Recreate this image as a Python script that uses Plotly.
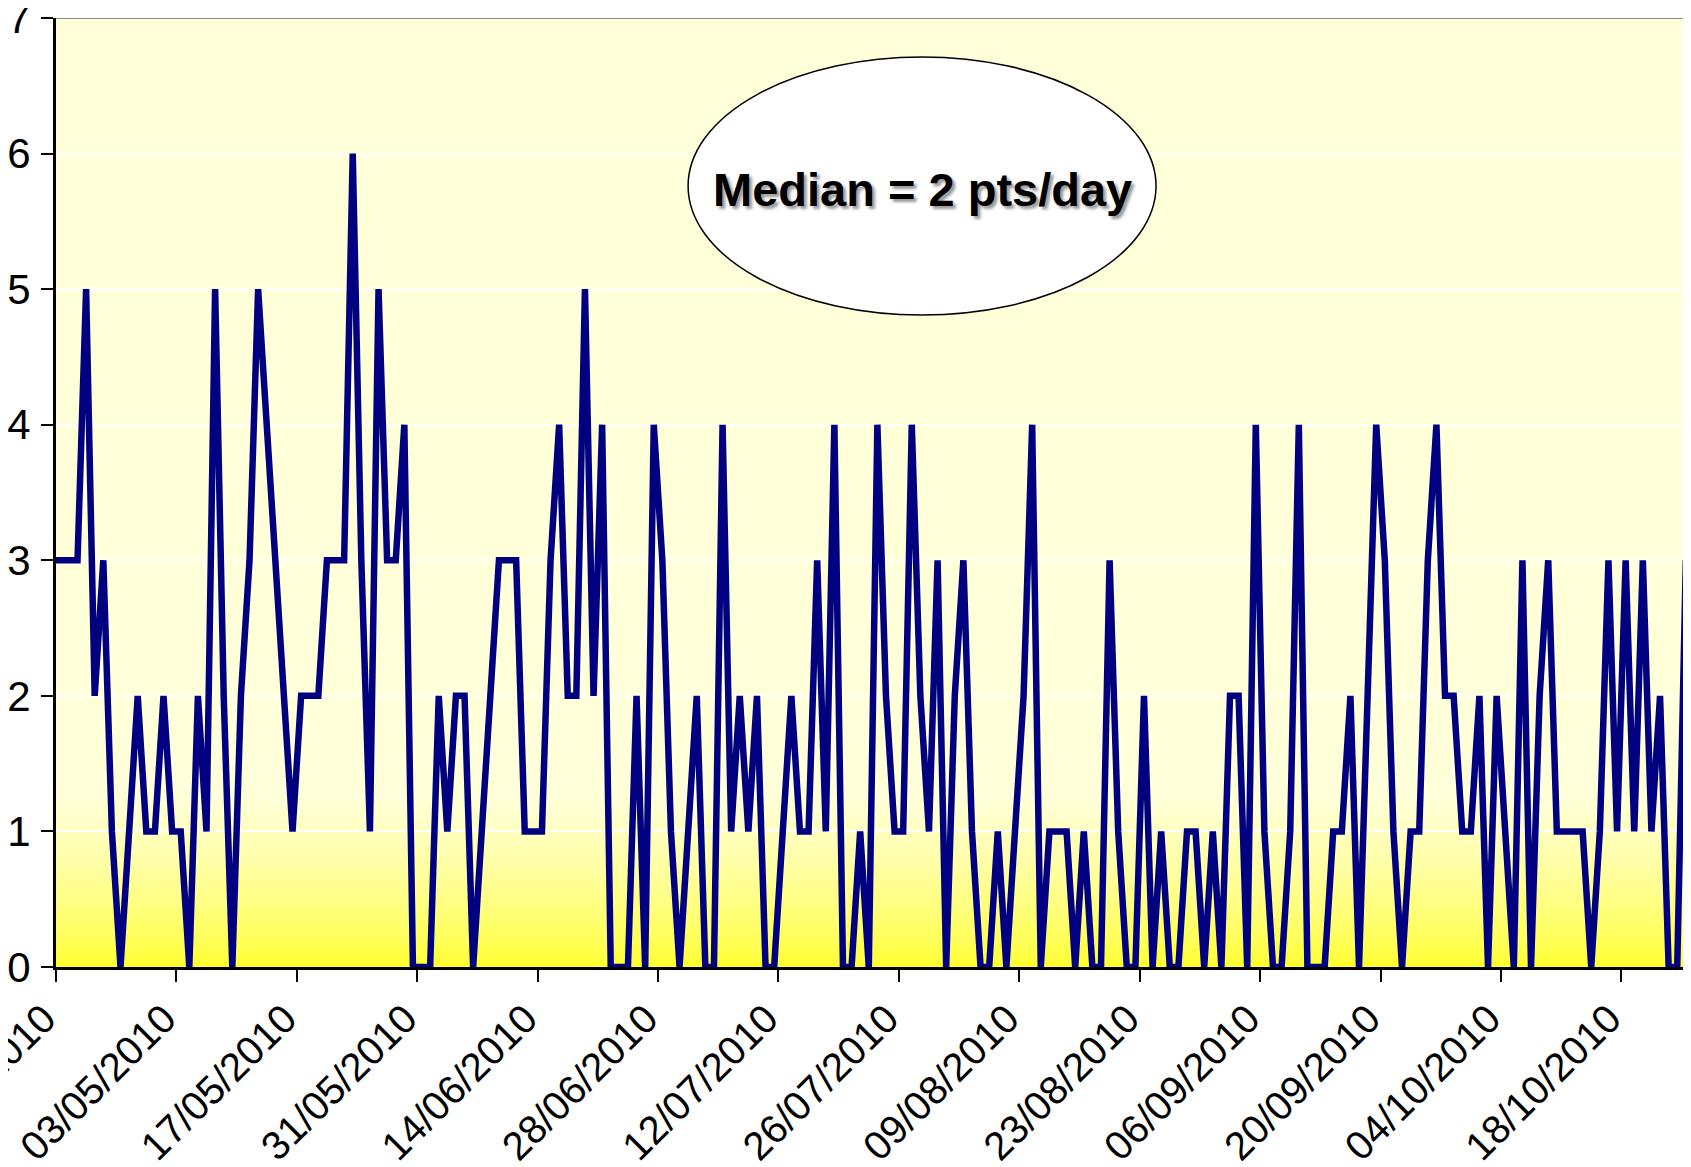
import plotly.graph_objects as go
import pandas as pd

# ---------------- data ----------------
# daily points, first value is 18/04/2010 (just left of the axis start)
first_day = "2010-04-18"
points_per_day = [
    3,
    3, 3, 3, 5, 2, 3, 1, 0, 1, 2,
    1, 1, 2, 1, 1, 0, 2, 1, 5, 2,
    0, 2, 3, 5, 4, 3, 2, 1, 2, 2,
    2, 3, 3, 3, 6, 3, 1, 5, 3, 3,
    4, 0, 0, 0, 2, 1, 2, 2, 0, 1,
    2, 3, 3, 3, 1, 1, 1, 3, 4, 2,
    2, 5, 2, 4, 0, 0, 0, 2, 0, 4,
    3, 1, 0, 1, 2, 0, 0, 4, 1, 2,
    1, 2, 0, 0, 1, 2, 1, 1, 3, 1,
    4, 0, 0, 1, 0, 4, 2, 1, 1, 4,
    2, 1, 3, 0, 2, 3, 1, 0, 0, 1,
    0, 1, 2, 4, 0, 1, 1, 1, 0, 1,
    0, 0, 3, 1, 0, 0, 2, 0, 1, 0,
    0, 1, 1, 0, 1, 0, 2, 2, 0, 4,
    1, 0, 0, 1, 4, 0, 0, 0, 1, 1,
    2, 0, 2, 4, 3, 1, 0, 1, 1, 3,
    4, 2, 2, 1, 1, 2, 0, 2, 1, 0,
    3, 0, 2, 3, 1, 1, 1, 1, 0, 1,
    3, 1, 3, 1, 3, 1, 2, 0, 0, 3,
]
tick_labels = [
    "19/04/2010", "03/05/2010", "17/05/2010", "31/05/2010", "14/06/2010",
    "28/06/2010", "12/07/2010", "26/07/2010", "09/08/2010", "23/08/2010",
    "06/09/2010", "20/09/2010", "04/10/2010", "18/10/2010",
]
y_ticks = [0, 1, 2, 3, 4, 5, 6, 7]
annotation_text = "Median = 2 pts/day"

# ---------------- build ----------------
days = pd.date_range(first_day, periods=len(points_per_day), freq="D")
x_pos = days + pd.Timedelta(hours=12)          # points sit mid-day (Excel style)
tick_vals = pd.to_datetime(tick_labels, format="%d/%m/%Y")
x_start = tick_vals[0]
x_end = x_start + pd.Timedelta(days=190.1)

fig = go.Figure()
fig.add_trace(go.Scatter(
    x=x_pos, y=points_per_day, mode="lines",
    line=dict(color="#000080", width=6.5),
    hoverinfo="x+y", showlegend=False,
))

# background gradient (bright yellow at the bottom fading to pale yellow)
shapes = []
top_c = (255, 255, 217)
bot_c = (255, 255, 38)
n_strips = 36
band_top = 1.25
for i in range(n_strips):
    y0 = band_top * i / n_strips
    y1 = band_top * (i + 1) / n_strips
    t = ((i + 0.5) / n_strips) ** 0.7
    c = tuple(round(b + (tc - b) * t) for b, tc in zip(bot_c, top_c))
    shapes.append(dict(type="rect", xref="paper", yref="y", x0=0, x1=1,
                       y0=y0, y1=y1 + 0.002, layer="below", line=dict(width=0),
                       fillcolor="rgb(%d,%d,%d)" % c))
# grey top border
shapes.append(dict(type="line", xref="paper", yref="y", x0=0, x1=1, y0=7, y1=7,
                   line=dict(color="#8c8c8c", width=2), layer="above"))
# ellipse callout
shapes.append(dict(type="circle", xref="paper", yref="paper",
                   x0=0.3866, x1=0.6728, y0=0.687, y1=0.9589,
                   fillcolor="white", line=dict(color="black", width=1.5),
                   layer="above"))

# the page body has an 8px margin: the figure is sized so the plot area
# runs to the right edge of the window
fig.update_layout(
    width=1683, height=1159,
    margin=dict(l=48, r=0, t=10, b=200, pad=0),
    paper_bgcolor="white",
    plot_bgcolor="rgb(255,255,217)",
    template="none",
    shapes=shapes,
    font=dict(family="Liberation Sans, Arial, sans-serif", color="black"),
    annotations=[dict(
        text="<b>%s</b>" % annotation_text, xref="paper", yref="paper",
        x=0.5297, y=0.8198, xanchor="center", yanchor="middle", showarrow=False,
        font=dict(size=47, color="black",
                  family="Liberation Sans, Arial, sans-serif",
                  shadow="3px 3px 3px #9a9a9a"),
    )],
)
fig.update_xaxes(
    type="date", range=[x_start, x_end],
    tickvals=tick_vals, ticktext=tick_labels, tickangle=-45,
    tickfont=dict(size=40), ticks="outside", ticklen=12, tickwidth=2,
    tickcolor="black", showline=True, linecolor="black", linewidth=3,
    ticklabelshift=-12, ticklabelstandoff=-3, ticklabeloverflow="allow",
    showgrid=False, zeroline=False, automargin=False,
)
fig.update_yaxes(
    range=[0, 7], tickvals=y_ticks, ticks="outside", ticklen=12, tickwidth=2,
    tickcolor="black", tickfont=dict(size=42), ticklabelstandoff=2,
    ticklabeloverflow="allow",
    showline=True, linecolor="black", linewidth=3,
    showgrid=True, gridcolor="white", gridwidth=2, zeroline=False,
    automargin=False,
)

fig.write_html("out.html")
